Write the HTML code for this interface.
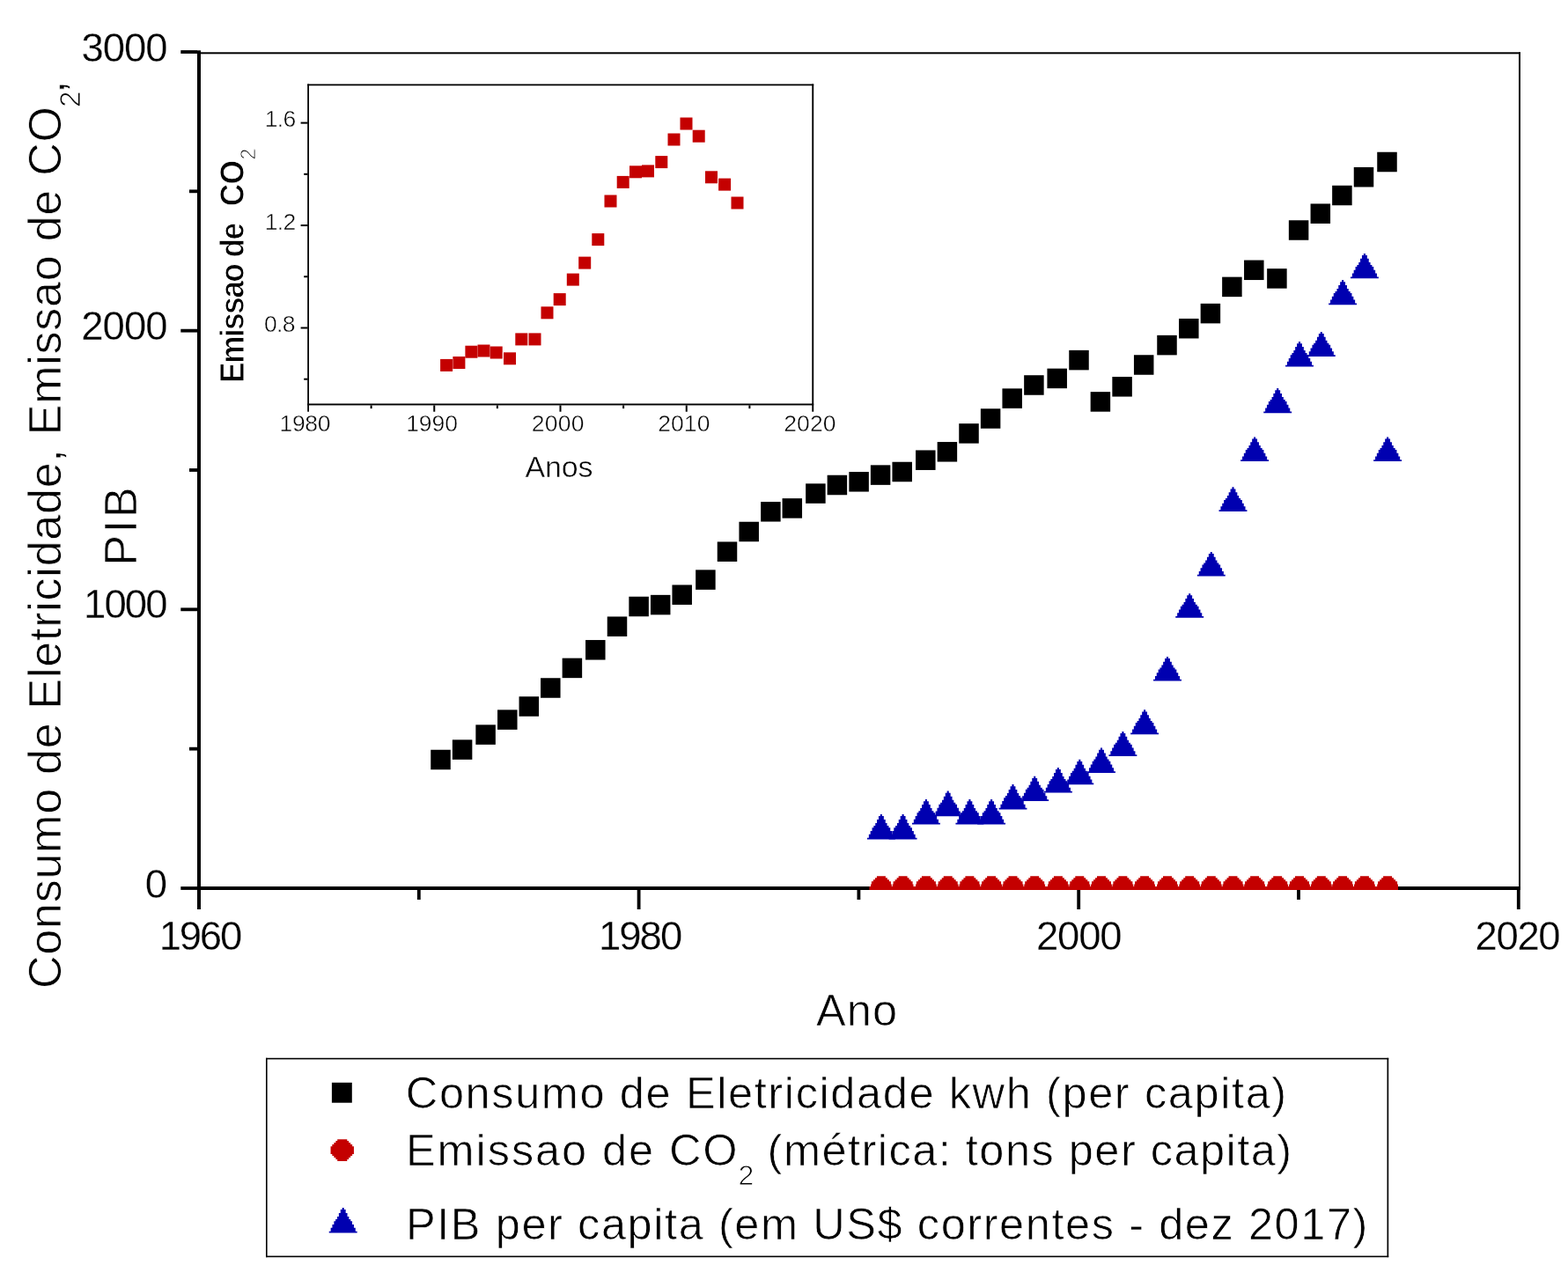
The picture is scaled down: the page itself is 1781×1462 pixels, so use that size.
<!DOCTYPE html>
<html><head><meta charset="utf-8"><title>Chart</title>
<style>html,body{margin:0;padding:0;background:#fff;} svg{display:block;} text{font-family:'Liberation Sans', Arial, sans-serif;fill:#000;}</style>
</head><body>
<svg width="1781" height="1462" viewBox="0 0 1781 1462">
<rect width="1781" height="1462" fill="#fff"/>
<rect x="224.00" y="57.30" width="4.00" height="975.70" fill="#000"/>
<rect x="224.00" y="1007.00" width="1503.00" height="4.00" fill="#000"/>
<rect x="224.00" y="59.30" width="1503.00" height="2.00" fill="#000"/>
<rect x="1725.00" y="59.30" width="2.00" height="951.70" fill="#000"/>
<rect x="224.10" y="1011.00" width="3.80" height="22.00" fill="#000"/>
<rect x="473.90" y="1011.00" width="3.80" height="11.00" fill="#000"/>
<rect x="723.70" y="1011.00" width="3.80" height="22.00" fill="#000"/>
<rect x="973.50" y="1011.00" width="3.80" height="11.00" fill="#000"/>
<rect x="1223.30" y="1011.00" width="3.80" height="22.00" fill="#000"/>
<rect x="1473.10" y="1011.00" width="3.80" height="11.00" fill="#000"/>
<rect x="1722.90" y="1011.00" width="3.80" height="22.00" fill="#000"/>
<rect x="205.30" y="1007.10" width="18.70" height="3.80" fill="#000"/>
<rect x="215.00" y="848.76" width="9.00" height="3.80" fill="#000"/>
<rect x="205.30" y="690.43" width="18.70" height="3.80" fill="#000"/>
<rect x="215.00" y="532.10" width="9.00" height="3.80" fill="#000"/>
<rect x="205.30" y="373.76" width="18.70" height="3.80" fill="#000"/>
<rect x="215.00" y="215.42" width="9.00" height="3.80" fill="#000"/>
<rect x="205.30" y="57.09" width="18.70" height="3.80" fill="#000"/>
<defs><clipPath id="cp"><rect x="228" y="61" width="1497" height="950"/></clipPath></defs>
<g clip-path="url(#cp)" fill="#c40000">
<polygon points="1005.90,995.30 1005.90,997.15 1007.90,997.15 1007.90,999.20 1009.90,999.20 1009.90,1001.20 1011.90,1001.20 1011.90,1004.60 1012.80,1004.60 1012.80,1013.00 989.00,1013.00 989.00,1004.60 989.90,1004.60 989.90,1001.20 991.90,1001.20 991.90,999.20 993.90,999.20 993.90,997.15 995.90,997.15 995.90,995.30"/>
<polygon points="1030.60,995.30 1030.60,997.15 1032.60,997.15 1032.60,999.20 1034.60,999.20 1034.60,1001.20 1036.60,1001.20 1036.60,1004.60 1037.50,1004.60 1037.50,1013.00 1013.70,1013.00 1013.70,1004.60 1014.60,1004.60 1014.60,1001.20 1016.60,1001.20 1016.60,999.20 1018.60,999.20 1018.60,997.15 1020.60,997.15 1020.60,995.30"/>
<polygon points="1056.90,995.30 1056.90,997.15 1058.90,997.15 1058.90,999.20 1060.90,999.20 1060.90,1001.20 1062.90,1001.20 1062.90,1004.60 1063.80,1004.60 1063.80,1013.00 1040.00,1013.00 1040.00,1004.60 1040.90,1004.60 1040.90,1001.20 1042.90,1001.20 1042.90,999.20 1044.90,999.20 1044.90,997.15 1046.90,997.15 1046.90,995.30"/>
<polygon points="1081.70,995.30 1081.70,997.15 1083.70,997.15 1083.70,999.20 1085.70,999.20 1085.70,1001.20 1087.70,1001.20 1087.70,1004.60 1088.60,1004.60 1088.60,1013.00 1064.80,1013.00 1064.80,1004.60 1065.70,1004.60 1065.70,1001.20 1067.70,1001.20 1067.70,999.20 1069.70,999.20 1069.70,997.15 1071.70,997.15 1071.70,995.30"/>
<polygon points="1106.40,995.30 1106.40,997.15 1108.40,997.15 1108.40,999.20 1110.40,999.20 1110.40,1001.20 1112.40,1001.20 1112.40,1004.60 1113.30,1004.60 1113.30,1013.00 1089.50,1013.00 1089.50,1004.60 1090.40,1004.60 1090.40,1001.20 1092.40,1001.20 1092.40,999.20 1094.40,999.20 1094.40,997.15 1096.40,997.15 1096.40,995.30"/>
<polygon points="1131.10,995.30 1131.10,997.15 1133.10,997.15 1133.10,999.20 1135.10,999.20 1135.10,1001.20 1137.10,1001.20 1137.10,1004.60 1138.00,1004.60 1138.00,1013.00 1114.20,1013.00 1114.20,1004.60 1115.10,1004.60 1115.10,1001.20 1117.10,1001.20 1117.10,999.20 1119.10,999.20 1119.10,997.15 1121.10,997.15 1121.10,995.30"/>
<polygon points="1155.50,995.30 1155.50,997.15 1157.50,997.15 1157.50,999.20 1159.50,999.20 1159.50,1001.20 1161.50,1001.20 1161.50,1004.60 1162.40,1004.60 1162.40,1013.00 1138.60,1013.00 1138.60,1004.60 1139.50,1004.60 1139.50,1001.20 1141.50,1001.20 1141.50,999.20 1143.50,999.20 1143.50,997.15 1145.50,997.15 1145.50,995.30"/>
<polygon points="1180.20,995.30 1180.20,997.15 1182.20,997.15 1182.20,999.20 1184.20,999.20 1184.20,1001.20 1186.20,1001.20 1186.20,1004.60 1187.10,1004.60 1187.10,1013.00 1163.30,1013.00 1163.30,1004.60 1164.20,1004.60 1164.20,1001.20 1166.20,1001.20 1166.20,999.20 1168.20,999.20 1168.20,997.15 1170.20,997.15 1170.20,995.30"/>
<polygon points="1206.90,995.30 1206.90,997.15 1208.90,997.15 1208.90,999.20 1210.90,999.20 1210.90,1001.20 1212.90,1001.20 1212.90,1004.60 1213.80,1004.60 1213.80,1013.00 1190.00,1013.00 1190.00,1004.60 1190.90,1004.60 1190.90,1001.20 1192.90,1001.20 1192.90,999.20 1194.90,999.20 1194.90,997.15 1196.90,997.15 1196.90,995.30"/>
<polygon points="1231.30,995.30 1231.30,997.15 1233.30,997.15 1233.30,999.20 1235.30,999.20 1235.30,1001.20 1237.30,1001.20 1237.30,1004.60 1238.20,1004.60 1238.20,1013.00 1214.40,1013.00 1214.40,1004.60 1215.30,1004.60 1215.30,1001.20 1217.30,1001.20 1217.30,999.20 1219.30,999.20 1219.30,997.15 1221.30,997.15 1221.30,995.30"/>
<polygon points="1256.00,995.30 1256.00,997.15 1258.00,997.15 1258.00,999.20 1260.00,999.20 1260.00,1001.20 1262.00,1001.20 1262.00,1004.60 1262.90,1004.60 1262.90,1013.00 1239.10,1013.00 1239.10,1004.60 1240.00,1004.60 1240.00,1001.20 1242.00,1001.20 1242.00,999.20 1244.00,999.20 1244.00,997.15 1246.00,997.15 1246.00,995.30"/>
<polygon points="1280.40,995.30 1280.40,997.15 1282.40,997.15 1282.40,999.20 1284.40,999.20 1284.40,1001.20 1286.40,1001.20 1286.40,1004.60 1287.30,1004.60 1287.30,1013.00 1263.50,1013.00 1263.50,1004.60 1264.40,1004.60 1264.40,1001.20 1266.40,1001.20 1266.40,999.20 1268.40,999.20 1268.40,997.15 1270.40,997.15 1270.40,995.30"/>
<polygon points="1305.10,995.30 1305.10,997.15 1307.10,997.15 1307.10,999.20 1309.10,999.20 1309.10,1001.20 1311.10,1001.20 1311.10,1004.60 1312.00,1004.60 1312.00,1013.00 1288.20,1013.00 1288.20,1004.60 1289.10,1004.60 1289.10,1001.20 1291.10,1001.20 1291.10,999.20 1293.10,999.20 1293.10,997.15 1295.10,997.15 1295.10,995.30"/>
<polygon points="1331.00,995.30 1331.00,997.15 1333.00,997.15 1333.00,999.20 1335.00,999.20 1335.00,1001.20 1337.00,1001.20 1337.00,1004.60 1337.90,1004.60 1337.90,1013.00 1314.10,1013.00 1314.10,1004.60 1315.00,1004.60 1315.00,1001.20 1317.00,1001.20 1317.00,999.20 1319.00,999.20 1319.00,997.15 1321.00,997.15 1321.00,995.30"/>
<polygon points="1356.20,995.30 1356.20,997.15 1358.20,997.15 1358.20,999.20 1360.20,999.20 1360.20,1001.20 1362.20,1001.20 1362.20,1004.60 1363.10,1004.60 1363.10,1013.00 1339.30,1013.00 1339.30,1004.60 1340.20,1004.60 1340.20,1001.20 1342.20,1001.20 1342.20,999.20 1344.20,999.20 1344.20,997.15 1346.20,997.15 1346.20,995.30"/>
<polygon points="1380.80,995.30 1380.80,997.15 1382.80,997.15 1382.80,999.20 1384.80,999.20 1384.80,1001.20 1386.80,1001.20 1386.80,1004.60 1387.70,1004.60 1387.70,1013.00 1363.90,1013.00 1363.90,1004.60 1364.80,1004.60 1364.80,1001.20 1366.80,1001.20 1366.80,999.20 1368.80,999.20 1368.80,997.15 1370.80,997.15 1370.80,995.30"/>
<polygon points="1405.50,995.30 1405.50,997.15 1407.50,997.15 1407.50,999.20 1409.50,999.20 1409.50,1001.20 1411.50,1001.20 1411.50,1004.60 1412.40,1004.60 1412.40,1013.00 1388.60,1013.00 1388.60,1004.60 1389.50,1004.60 1389.50,1001.20 1391.50,1001.20 1391.50,999.20 1393.50,999.20 1393.50,997.15 1395.50,997.15 1395.50,995.30"/>
<polygon points="1430.10,995.30 1430.10,997.15 1432.10,997.15 1432.10,999.20 1434.10,999.20 1434.10,1001.20 1436.10,1001.20 1436.10,1004.60 1437.00,1004.60 1437.00,1013.00 1413.20,1013.00 1413.20,1004.60 1414.10,1004.60 1414.10,1001.20 1416.10,1001.20 1416.10,999.20 1418.10,999.20 1418.10,997.15 1420.10,997.15 1420.10,995.30"/>
<polygon points="1456.20,995.30 1456.20,997.15 1458.20,997.15 1458.20,999.20 1460.20,999.20 1460.20,1001.20 1462.20,1001.20 1462.20,1004.60 1463.10,1004.60 1463.10,1013.00 1439.30,1013.00 1439.30,1004.60 1440.20,1004.60 1440.20,1001.20 1442.20,1001.20 1442.20,999.20 1444.20,999.20 1444.20,997.15 1446.20,997.15 1446.20,995.30"/>
<polygon points="1481.00,995.30 1481.00,997.15 1483.00,997.15 1483.00,999.20 1485.00,999.20 1485.00,1001.20 1487.00,1001.20 1487.00,1004.60 1487.90,1004.60 1487.90,1013.00 1464.10,1013.00 1464.10,1004.60 1465.00,1004.60 1465.00,1001.20 1467.00,1001.20 1467.00,999.20 1469.00,999.20 1469.00,997.15 1471.00,997.15 1471.00,995.30"/>
<polygon points="1505.80,995.30 1505.80,997.15 1507.80,997.15 1507.80,999.20 1509.80,999.20 1509.80,1001.20 1511.80,1001.20 1511.80,1004.60 1512.70,1004.60 1512.70,1013.00 1488.90,1013.00 1488.90,1004.60 1489.80,1004.60 1489.80,1001.20 1491.80,1001.20 1491.80,999.20 1493.80,999.20 1493.80,997.15 1495.80,997.15 1495.80,995.30"/>
<polygon points="1530.10,995.30 1530.10,997.15 1532.10,997.15 1532.10,999.20 1534.10,999.20 1534.10,1001.20 1536.10,1001.20 1536.10,1004.60 1537.00,1004.60 1537.00,1013.00 1513.20,1013.00 1513.20,1004.60 1514.10,1004.60 1514.10,1001.20 1516.10,1001.20 1516.10,999.20 1518.10,999.20 1518.10,997.15 1520.10,997.15 1520.10,995.30"/>
<polygon points="1554.90,995.30 1554.90,997.15 1556.90,997.15 1556.90,999.20 1558.90,999.20 1558.90,1001.20 1560.90,1001.20 1560.90,1004.60 1561.80,1004.60 1561.80,1013.00 1538.00,1013.00 1538.00,1004.60 1538.90,1004.60 1538.90,1001.20 1540.90,1001.20 1540.90,999.20 1542.90,999.20 1542.90,997.15 1544.90,997.15 1544.90,995.30"/>
<polygon points="1581.10,995.30 1581.10,997.15 1583.10,997.15 1583.10,999.20 1585.10,999.20 1585.10,1001.20 1587.10,1001.20 1587.10,1004.60 1588.00,1004.60 1588.00,1013.00 1564.20,1013.00 1564.20,1004.60 1565.10,1004.60 1565.10,1001.20 1567.10,1001.20 1567.10,999.20 1569.10,999.20 1569.10,997.15 1571.10,997.15 1571.10,995.30"/>
<rect x="987.40" y="1007.00" width="600.20" height="4.00" fill="#c40000"/>
</g>
<rect x="489.25" y="851.75" width="22.50" height="22.50" fill="#000"/>
<rect x="513.85" y="840.35" width="22.50" height="22.50" fill="#000"/>
<rect x="540.35" y="823.35" width="22.50" height="22.50" fill="#000"/>
<rect x="565.05" y="806.35" width="22.50" height="22.50" fill="#000"/>
<rect x="589.55" y="791.25" width="22.50" height="22.50" fill="#000"/>
<rect x="614.05" y="770.25" width="22.50" height="22.50" fill="#000"/>
<rect x="638.65" y="747.65" width="22.50" height="22.50" fill="#000"/>
<rect x="665.05" y="727.05" width="22.50" height="22.50" fill="#000"/>
<rect x="689.75" y="700.45" width="22.50" height="22.50" fill="#000"/>
<rect x="714.35" y="677.75" width="22.50" height="22.50" fill="#000"/>
<rect x="738.95" y="675.85" width="22.50" height="22.50" fill="#000"/>
<rect x="763.45" y="664.45" width="22.50" height="22.50" fill="#000"/>
<rect x="790.15" y="647.35" width="22.50" height="22.50" fill="#000"/>
<rect x="814.75" y="615.45" width="22.50" height="22.50" fill="#000"/>
<rect x="839.45" y="592.75" width="22.50" height="22.50" fill="#000"/>
<rect x="864.15" y="570.05" width="22.50" height="22.50" fill="#000"/>
<rect x="888.55" y="566.15" width="22.50" height="22.50" fill="#000"/>
<rect x="915.15" y="549.35" width="22.50" height="22.50" fill="#000"/>
<rect x="939.65" y="539.75" width="22.50" height="22.50" fill="#000"/>
<rect x="964.35" y="536.05" width="22.50" height="22.50" fill="#000"/>
<rect x="988.85" y="528.35" width="22.50" height="22.50" fill="#000"/>
<rect x="1013.45" y="524.75" width="22.50" height="22.50" fill="#000"/>
<rect x="1040.05" y="511.45" width="22.50" height="22.50" fill="#000"/>
<rect x="1064.65" y="502.05" width="22.50" height="22.50" fill="#000"/>
<rect x="1089.25" y="481.15" width="22.50" height="22.50" fill="#000"/>
<rect x="1113.85" y="464.25" width="22.50" height="22.50" fill="#000"/>
<rect x="1138.45" y="441.35" width="22.50" height="22.50" fill="#000"/>
<rect x="1163.15" y="426.25" width="22.50" height="22.50" fill="#000"/>
<rect x="1189.45" y="418.65" width="22.50" height="22.50" fill="#000"/>
<rect x="1214.25" y="397.85" width="22.50" height="22.50" fill="#000"/>
<rect x="1238.65" y="445.15" width="22.50" height="22.50" fill="#000"/>
<rect x="1263.35" y="428.05" width="22.50" height="22.50" fill="#000"/>
<rect x="1287.95" y="403.25" width="22.50" height="22.50" fill="#000"/>
<rect x="1314.25" y="380.85" width="22.50" height="22.50" fill="#000"/>
<rect x="1339.05" y="361.95" width="22.50" height="22.50" fill="#000"/>
<rect x="1363.65" y="344.85" width="22.50" height="22.50" fill="#000"/>
<rect x="1388.15" y="314.65" width="22.50" height="22.50" fill="#000"/>
<rect x="1413.05" y="295.55" width="22.50" height="22.50" fill="#000"/>
<rect x="1439.15" y="305.15" width="22.50" height="22.50" fill="#000"/>
<rect x="1463.85" y="250.25" width="22.50" height="22.50" fill="#000"/>
<rect x="1488.55" y="231.45" width="22.50" height="22.50" fill="#000"/>
<rect x="1513.15" y="210.75" width="22.50" height="22.50" fill="#000"/>
<rect x="1537.75" y="189.95" width="22.50" height="22.50" fill="#000"/>
<rect x="1564.25" y="172.75" width="22.50" height="22.50" fill="#000"/>
<polygon points="1001.95,924.90 1001.95,927.08 1003.85,927.08 1003.85,930.94 1005.75,930.94 1005.75,934.99 1007.55,934.99 1007.55,938.06 1009.45,938.06 1009.45,940.14 1011.25,940.14 1011.25,944.00 1013.15,944.00 1013.15,947.76 1014.95,947.76 1014.95,951.82 1016.85,951.82 1016.85,953.60 984.95,953.60 984.95,951.82 986.85,951.82 986.85,947.76 988.65,947.76 988.65,944.00 990.55,944.00 990.55,940.14 992.35,940.14 992.35,938.06 994.25,938.06 994.25,934.99 996.05,934.99 996.05,930.94 997.95,930.94 997.95,927.08 999.85,927.08 999.85,924.90" fill="#0000b0"/>
<polygon points="1026.65,924.90 1026.65,927.08 1028.55,927.08 1028.55,930.94 1030.45,930.94 1030.45,934.99 1032.25,934.99 1032.25,938.06 1034.15,938.06 1034.15,940.14 1035.95,940.14 1035.95,944.00 1037.85,944.00 1037.85,947.76 1039.65,947.76 1039.65,951.82 1041.55,951.82 1041.55,953.60 1009.65,953.60 1009.65,951.82 1011.55,951.82 1011.55,947.76 1013.35,947.76 1013.35,944.00 1015.25,944.00 1015.25,940.14 1017.05,940.14 1017.05,938.06 1018.95,938.06 1018.95,934.99 1020.75,934.99 1020.75,930.94 1022.65,930.94 1022.65,927.08 1024.55,927.08 1024.55,924.90" fill="#0000b0"/>
<polygon points="1052.95,908.10 1052.95,910.26 1054.85,910.26 1054.85,914.09 1056.75,914.09 1056.75,918.12 1058.55,918.12 1058.55,921.17 1060.45,921.17 1060.45,923.23 1062.25,923.23 1062.25,927.07 1064.15,927.07 1064.15,930.80 1065.95,930.80 1065.95,934.83 1067.85,934.83 1067.85,936.60 1035.95,936.60 1035.95,934.83 1037.85,934.83 1037.85,930.80 1039.65,930.80 1039.65,927.07 1041.55,927.07 1041.55,923.23 1043.35,923.23 1043.35,921.17 1045.25,921.17 1045.25,918.12 1047.05,918.12 1047.05,914.09 1048.95,914.09 1048.95,910.26 1050.85,910.26 1050.85,908.10" fill="#0000b0"/>
<polygon points="1077.75,898.60 1077.75,900.78 1079.65,900.78 1079.65,904.64 1081.55,904.64 1081.55,908.69 1083.35,908.69 1083.35,911.76 1085.25,911.76 1085.25,913.84 1087.05,913.84 1087.05,917.70 1088.95,917.70 1088.95,921.46 1090.75,921.46 1090.75,925.52 1092.65,925.52 1092.65,927.30 1060.75,927.30 1060.75,925.52 1062.65,925.52 1062.65,921.46 1064.45,921.46 1064.45,917.70 1066.35,917.70 1066.35,913.84 1068.15,913.84 1068.15,911.76 1070.05,911.76 1070.05,908.69 1071.85,908.69 1071.85,904.64 1073.75,904.64 1073.75,900.78 1075.65,900.78 1075.65,898.60" fill="#0000b0"/>
<polygon points="1102.45,908.10 1102.45,910.26 1104.35,910.26 1104.35,914.09 1106.25,914.09 1106.25,918.12 1108.05,918.12 1108.05,921.17 1109.95,921.17 1109.95,923.23 1111.75,923.23 1111.75,927.07 1113.65,927.07 1113.65,930.80 1115.45,930.80 1115.45,934.83 1117.35,934.83 1117.35,936.60 1085.45,936.60 1085.45,934.83 1087.35,934.83 1087.35,930.80 1089.15,930.80 1089.15,927.07 1091.05,927.07 1091.05,923.23 1092.85,923.23 1092.85,921.17 1094.75,921.17 1094.75,918.12 1096.55,918.12 1096.55,914.09 1098.45,914.09 1098.45,910.26 1100.35,910.26 1100.35,908.10" fill="#0000b0"/>
<polygon points="1127.15,908.10 1127.15,910.26 1129.05,910.26 1129.05,914.09 1130.95,914.09 1130.95,918.12 1132.75,918.12 1132.75,921.17 1134.65,921.17 1134.65,923.23 1136.45,923.23 1136.45,927.07 1138.35,927.07 1138.35,930.80 1140.15,930.80 1140.15,934.83 1142.05,934.83 1142.05,936.60 1110.15,936.60 1110.15,934.83 1112.05,934.83 1112.05,930.80 1113.85,930.80 1113.85,927.07 1115.75,927.07 1115.75,923.23 1117.55,923.23 1117.55,921.17 1119.45,921.17 1119.45,918.12 1121.25,918.12 1121.25,914.09 1123.15,914.09 1123.15,910.26 1125.05,910.26 1125.05,908.10" fill="#0000b0"/>
<polygon points="1151.55,891.10 1151.55,893.25 1153.45,893.25 1153.45,897.05 1155.35,897.05 1155.35,901.05 1157.15,901.05 1157.15,904.08 1159.05,904.08 1159.05,906.13 1160.85,906.13 1160.85,909.93 1162.75,909.93 1162.75,913.64 1164.55,913.64 1164.55,917.64 1166.45,917.64 1166.45,919.40 1134.55,919.40 1134.55,917.64 1136.45,917.64 1136.45,913.64 1138.25,913.64 1138.25,909.93 1140.15,909.93 1140.15,906.13 1141.95,906.13 1141.95,904.08 1143.85,904.08 1143.85,901.05 1145.65,901.05 1145.65,897.05 1147.55,897.05 1147.55,893.25 1149.45,893.25 1149.45,891.10" fill="#0000b0"/>
<polygon points="1176.25,881.80 1176.25,883.95 1178.15,883.95 1178.15,887.75 1180.05,887.75 1180.05,891.75 1181.85,891.75 1181.85,894.78 1183.75,894.78 1183.75,896.83 1185.55,896.83 1185.55,900.63 1187.45,900.63 1187.45,904.34 1189.25,904.34 1189.25,908.34 1191.15,908.34 1191.15,910.10 1159.25,910.10 1159.25,908.34 1161.15,908.34 1161.15,904.34 1162.95,904.34 1162.95,900.63 1164.85,900.63 1164.85,896.83 1166.65,896.83 1166.65,894.78 1168.55,894.78 1168.55,891.75 1170.35,891.75 1170.35,887.75 1172.25,887.75 1172.25,883.95 1174.15,883.95 1174.15,881.80" fill="#0000b0"/>
<polygon points="1202.95,871.90 1202.95,874.08 1204.85,874.08 1204.85,877.94 1206.75,877.94 1206.75,881.99 1208.55,881.99 1208.55,885.06 1210.45,885.06 1210.45,887.14 1212.25,887.14 1212.25,891.00 1214.15,891.00 1214.15,894.76 1215.95,894.76 1215.95,898.82 1217.85,898.82 1217.85,900.60 1185.95,900.60 1185.95,898.82 1187.85,898.82 1187.85,894.76 1189.65,894.76 1189.65,891.00 1191.55,891.00 1191.55,887.14 1193.35,887.14 1193.35,885.06 1195.25,885.06 1195.25,881.99 1197.05,881.99 1197.05,877.94 1198.95,877.94 1198.95,874.08 1200.85,874.08 1200.85,871.90" fill="#0000b0"/>
<polygon points="1227.35,862.80 1227.35,864.96 1229.25,864.96 1229.25,868.79 1231.15,868.79 1231.15,872.82 1232.95,872.82 1232.95,875.87 1234.85,875.87 1234.85,877.93 1236.65,877.93 1236.65,881.77 1238.55,881.77 1238.55,885.50 1240.35,885.50 1240.35,889.53 1242.25,889.53 1242.25,891.30 1210.35,891.30 1210.35,889.53 1212.25,889.53 1212.25,885.50 1214.05,885.50 1214.05,881.77 1215.95,881.77 1215.95,877.93 1217.75,877.93 1217.75,875.87 1219.65,875.87 1219.65,872.82 1221.45,872.82 1221.45,868.79 1223.35,868.79 1223.35,864.96 1225.25,864.96 1225.25,862.80" fill="#0000b0"/>
<polygon points="1252.05,849.50 1252.05,851.66 1253.95,851.66 1253.95,855.49 1255.85,855.49 1255.85,859.52 1257.65,859.52 1257.65,862.57 1259.55,862.57 1259.55,864.63 1261.35,864.63 1261.35,868.47 1263.25,868.47 1263.25,872.20 1265.05,872.20 1265.05,876.23 1266.95,876.23 1266.95,878.00 1235.05,878.00 1235.05,876.23 1236.95,876.23 1236.95,872.20 1238.75,872.20 1238.75,868.47 1240.65,868.47 1240.65,864.63 1242.45,864.63 1242.45,862.57 1244.35,862.57 1244.35,859.52 1246.15,859.52 1246.15,855.49 1248.05,855.49 1248.05,851.66 1249.95,851.66 1249.95,849.50" fill="#0000b0"/>
<polygon points="1276.45,831.00 1276.45,833.12 1278.35,833.12 1278.35,836.87 1280.25,836.87 1280.25,840.81 1282.05,840.81 1282.05,843.80 1283.95,843.80 1283.95,845.82 1285.75,845.82 1285.75,849.57 1287.65,849.57 1287.65,853.22 1289.45,853.22 1289.45,857.17 1291.35,857.17 1291.35,858.90 1259.45,858.90 1259.45,857.17 1261.35,857.17 1261.35,853.22 1263.15,853.22 1263.15,849.57 1265.05,849.57 1265.05,845.82 1266.85,845.82 1266.85,843.80 1268.75,843.80 1268.75,840.81 1270.55,840.81 1270.55,836.87 1272.45,836.87 1272.45,833.12 1274.35,833.12 1274.35,831.00" fill="#0000b0"/>
<polygon points="1301.15,806.30 1301.15,808.42 1303.05,808.42 1303.05,812.17 1304.95,812.17 1304.95,816.11 1306.75,816.11 1306.75,819.10 1308.65,819.10 1308.65,821.12 1310.45,821.12 1310.45,824.87 1312.35,824.87 1312.35,828.52 1314.15,828.52 1314.15,832.47 1316.05,832.47 1316.05,834.20 1284.15,834.20 1284.15,832.47 1286.05,832.47 1286.05,828.52 1287.85,828.52 1287.85,824.87 1289.75,824.87 1289.75,821.12 1291.55,821.12 1291.55,819.10 1293.45,819.10 1293.45,816.11 1295.25,816.11 1295.25,812.17 1297.15,812.17 1297.15,808.42 1299.05,808.42 1299.05,806.30" fill="#0000b0"/>
<polygon points="1327.05,745.90 1327.05,747.99 1328.95,747.99 1328.95,751.71 1330.85,751.71 1330.85,755.61 1332.65,755.61 1332.65,758.56 1334.55,758.56 1334.55,760.56 1336.35,760.56 1336.35,764.27 1338.25,764.27 1338.25,767.88 1340.05,767.88 1340.05,771.79 1341.95,771.79 1341.95,773.50 1310.05,773.50 1310.05,771.79 1311.95,771.79 1311.95,767.88 1313.75,767.88 1313.75,764.27 1315.65,764.27 1315.65,760.56 1317.45,760.56 1317.45,758.56 1319.35,758.56 1319.35,755.61 1321.15,755.61 1321.15,751.71 1323.05,751.71 1323.05,747.99 1324.95,747.99 1324.95,745.90" fill="#0000b0"/>
<polygon points="1352.25,674.20 1352.25,676.29 1354.15,676.29 1354.15,680.01 1356.05,680.01 1356.05,683.91 1357.85,683.91 1357.85,686.86 1359.75,686.86 1359.75,688.86 1361.55,688.86 1361.55,692.57 1363.45,692.57 1363.45,696.18 1365.25,696.18 1365.25,700.09 1367.15,700.09 1367.15,701.80 1335.25,701.80 1335.25,700.09 1337.15,700.09 1337.15,696.18 1338.95,696.18 1338.95,692.57 1340.85,692.57 1340.85,688.86 1342.65,688.86 1342.65,686.86 1344.55,686.86 1344.55,683.91 1346.35,683.91 1346.35,680.01 1348.25,680.01 1348.25,676.29 1350.15,676.29 1350.15,674.20" fill="#0000b0"/>
<polygon points="1376.85,626.90 1376.85,628.99 1378.75,628.99 1378.75,632.71 1380.65,632.71 1380.65,636.61 1382.45,636.61 1382.45,639.56 1384.35,639.56 1384.35,641.56 1386.15,641.56 1386.15,645.27 1388.05,645.27 1388.05,648.88 1389.85,648.88 1389.85,652.79 1391.75,652.79 1391.75,654.50 1359.85,654.50 1359.85,652.79 1361.75,652.79 1361.75,648.88 1363.55,648.88 1363.55,645.27 1365.45,645.27 1365.45,641.56 1367.25,641.56 1367.25,639.56 1369.15,639.56 1369.15,636.61 1370.95,636.61 1370.95,632.71 1372.85,632.71 1372.85,628.99 1374.75,628.99 1374.75,626.90" fill="#0000b0"/>
<polygon points="1401.55,553.30 1401.55,555.40 1403.45,555.40 1403.45,559.13 1405.35,559.13 1405.35,563.04 1407.15,563.04 1407.15,566.00 1409.05,566.00 1409.05,568.01 1410.85,568.01 1410.85,571.73 1412.75,571.73 1412.75,575.36 1414.55,575.36 1414.55,579.28 1416.45,579.28 1416.45,581.00 1384.55,581.00 1384.55,579.28 1386.45,579.28 1386.45,575.36 1388.25,575.36 1388.25,571.73 1390.15,571.73 1390.15,568.01 1391.95,568.01 1391.95,566.00 1393.85,566.00 1393.85,563.04 1395.65,563.04 1395.65,559.13 1397.55,559.13 1397.55,555.40 1399.45,555.40 1399.45,553.30" fill="#0000b0"/>
<polygon points="1426.15,496.40 1426.15,498.49 1428.05,498.49 1428.05,502.21 1429.95,502.21 1429.95,506.11 1431.75,506.11 1431.75,509.06 1433.65,509.06 1433.65,511.06 1435.45,511.06 1435.45,514.77 1437.35,514.77 1437.35,518.38 1439.15,518.38 1439.15,522.29 1441.05,522.29 1441.05,524.00 1409.15,524.00 1409.15,522.29 1411.05,522.29 1411.05,518.38 1412.85,518.38 1412.85,514.77 1414.75,514.77 1414.75,511.06 1416.55,511.06 1416.55,509.06 1418.45,509.06 1418.45,506.11 1420.25,506.11 1420.25,502.21 1422.15,502.21 1422.15,498.49 1424.05,498.49 1424.05,496.40" fill="#0000b0"/>
<polygon points="1452.25,441.00 1452.25,443.14 1454.15,443.14 1454.15,446.93 1456.05,446.93 1456.05,450.92 1457.85,450.92 1457.85,453.93 1459.75,453.93 1459.75,455.98 1461.55,455.98 1461.55,459.77 1463.45,459.77 1463.45,463.46 1465.25,463.46 1465.25,467.45 1467.15,467.45 1467.15,469.20 1435.25,469.20 1435.25,467.45 1437.15,467.45 1437.15,463.46 1438.95,463.46 1438.95,459.77 1440.85,459.77 1440.85,455.98 1442.65,455.98 1442.65,453.93 1444.55,453.93 1444.55,450.92 1446.35,450.92 1446.35,446.93 1448.25,446.93 1448.25,443.14 1450.15,443.14 1450.15,441.00" fill="#0000b0"/>
<polygon points="1477.05,388.10 1477.05,390.25 1478.95,390.25 1478.95,394.07 1480.85,394.07 1480.85,398.09 1482.65,398.09 1482.65,401.12 1484.55,401.12 1484.55,403.18 1486.35,403.18 1486.35,407.00 1488.25,407.00 1488.25,410.72 1490.05,410.72 1490.05,414.74 1491.95,414.74 1491.95,416.50 1460.05,416.50 1460.05,414.74 1461.95,414.74 1461.95,410.72 1463.75,410.72 1463.75,407.00 1465.65,407.00 1465.65,403.18 1467.45,403.18 1467.45,401.12 1469.35,401.12 1469.35,398.09 1471.15,398.09 1471.15,394.07 1473.05,394.07 1473.05,390.25 1474.95,390.25 1474.95,388.10" fill="#0000b0"/>
<polygon points="1501.85,377.00 1501.85,379.12 1503.75,379.12 1503.75,382.87 1505.65,382.87 1505.65,386.81 1507.45,386.81 1507.45,389.80 1509.35,389.80 1509.35,391.82 1511.15,391.82 1511.15,395.57 1513.05,395.57 1513.05,399.22 1514.85,399.22 1514.85,403.17 1516.75,403.17 1516.75,404.90 1484.85,404.90 1484.85,403.17 1486.75,403.17 1486.75,399.22 1488.55,399.22 1488.55,395.57 1490.45,395.57 1490.45,391.82 1492.25,391.82 1492.25,389.80 1494.15,389.80 1494.15,386.81 1495.95,386.81 1495.95,382.87 1497.85,382.87 1497.85,379.12 1499.75,379.12 1499.75,377.00" fill="#0000b0"/>
<polygon points="1526.15,318.00 1526.15,320.14 1528.05,320.14 1528.05,323.93 1529.95,323.93 1529.95,327.92 1531.75,327.92 1531.75,330.93 1533.65,330.93 1533.65,332.98 1535.45,332.98 1535.45,336.77 1537.35,336.77 1537.35,340.46 1539.15,340.46 1539.15,344.45 1541.05,344.45 1541.05,346.20 1509.15,346.20 1509.15,344.45 1511.05,344.45 1511.05,340.46 1512.85,340.46 1512.85,336.77 1514.75,336.77 1514.75,332.98 1516.55,332.98 1516.55,330.93 1518.45,330.93 1518.45,327.92 1520.25,327.92 1520.25,323.93 1522.15,323.93 1522.15,320.14 1524.05,320.14 1524.05,318.00" fill="#0000b0"/>
<polygon points="1550.95,287.90 1550.95,290.05 1552.85,290.05 1552.85,293.87 1554.75,293.87 1554.75,297.89 1556.55,297.89 1556.55,300.92 1558.45,300.92 1558.45,302.98 1560.25,302.98 1560.25,306.80 1562.15,306.80 1562.15,310.52 1563.95,310.52 1563.95,314.54 1565.85,314.54 1565.85,316.30 1533.95,316.30 1533.95,314.54 1535.85,314.54 1535.85,310.52 1537.65,310.52 1537.65,306.80 1539.55,306.80 1539.55,302.98 1541.35,302.98 1541.35,300.92 1543.25,300.92 1543.25,297.89 1545.05,297.89 1545.05,293.87 1546.95,293.87 1546.95,290.05 1548.85,290.05 1548.85,287.90" fill="#0000b0"/>
<polygon points="1577.15,496.40 1577.15,498.49 1579.05,498.49 1579.05,502.21 1580.95,502.21 1580.95,506.11 1582.75,506.11 1582.75,509.06 1584.65,509.06 1584.65,511.06 1586.45,511.06 1586.45,514.77 1588.35,514.77 1588.35,518.38 1590.15,518.38 1590.15,522.29 1592.05,522.29 1592.05,524.00 1560.15,524.00 1560.15,522.29 1562.05,522.29 1562.05,518.38 1563.85,518.38 1563.85,514.77 1565.75,514.77 1565.75,511.06 1567.55,511.06 1567.55,509.06 1569.45,509.06 1569.45,506.11 1571.25,506.11 1571.25,502.21 1573.15,502.21 1573.15,498.49 1575.05,498.49 1575.05,496.40" fill="#0000b0"/>
<rect x="349.20" y="95.50" width="575.00" height="1.80" fill="#000"/>
<rect x="349.20" y="458.50" width="575.00" height="1.90" fill="#000"/>
<rect x="349.20" y="95.50" width="1.80" height="372.20" fill="#000"/>
<rect x="922.30" y="95.50" width="1.90" height="372.20" fill="#000"/>
<rect x="420.62" y="460.40" width="2.00" height="3.70" fill="#000"/>
<rect x="492.25" y="460.40" width="2.00" height="7.30" fill="#000"/>
<rect x="563.88" y="460.40" width="2.00" height="3.70" fill="#000"/>
<rect x="635.50" y="460.40" width="2.00" height="7.30" fill="#000"/>
<rect x="707.12" y="460.40" width="2.00" height="3.70" fill="#000"/>
<rect x="778.75" y="460.40" width="2.00" height="7.30" fill="#000"/>
<rect x="850.38" y="460.40" width="2.00" height="3.70" fill="#000"/>
<rect x="345.20" y="429.70" width="4.30" height="2.00" fill="#000"/>
<rect x="341.60" y="371.48" width="7.90" height="2.00" fill="#000"/>
<rect x="345.20" y="313.26" width="4.30" height="2.00" fill="#000"/>
<rect x="341.60" y="255.04" width="7.90" height="2.00" fill="#000"/>
<rect x="345.20" y="196.82" width="4.30" height="2.00" fill="#000"/>
<rect x="341.60" y="138.60" width="7.90" height="2.00" fill="#000"/>
<rect x="500.10" y="407.90" width="14.00" height="14.00" fill="#c40000"/>
<rect x="514.40" y="405.00" width="14.00" height="14.00" fill="#c40000"/>
<rect x="528.40" y="392.70" width="14.00" height="14.00" fill="#c40000"/>
<rect x="542.50" y="391.50" width="14.00" height="14.00" fill="#c40000"/>
<rect x="556.70" y="393.50" width="14.00" height="14.00" fill="#c40000"/>
<rect x="572.00" y="400.30" width="14.00" height="14.00" fill="#c40000"/>
<rect x="585.30" y="378.40" width="14.00" height="14.00" fill="#c40000"/>
<rect x="600.50" y="378.40" width="14.00" height="14.00" fill="#c40000"/>
<rect x="614.50" y="348.30" width="14.00" height="14.00" fill="#c40000"/>
<rect x="628.70" y="333.10" width="14.00" height="14.00" fill="#c40000"/>
<rect x="643.80" y="310.60" width="14.00" height="14.00" fill="#c40000"/>
<rect x="657.20" y="291.60" width="14.00" height="14.00" fill="#c40000"/>
<rect x="672.30" y="265.10" width="14.00" height="14.00" fill="#c40000"/>
<rect x="686.50" y="221.50" width="14.00" height="14.00" fill="#c40000"/>
<rect x="700.70" y="199.90" width="14.00" height="14.00" fill="#c40000"/>
<rect x="715.00" y="188.30" width="14.00" height="14.00" fill="#c40000"/>
<rect x="729.00" y="187.40" width="14.00" height="14.00" fill="#c40000"/>
<rect x="744.30" y="177.10" width="14.00" height="14.00" fill="#c40000"/>
<rect x="758.50" y="151.50" width="14.00" height="14.00" fill="#c40000"/>
<rect x="772.50" y="133.50" width="14.00" height="14.00" fill="#c40000"/>
<rect x="786.70" y="147.70" width="14.00" height="14.00" fill="#c40000"/>
<rect x="801.00" y="194.30" width="14.00" height="14.00" fill="#c40000"/>
<rect x="816.10" y="202.60" width="14.00" height="14.00" fill="#c40000"/>
<rect x="830.50" y="223.50" width="14.00" height="14.00" fill="#c40000"/>
<rect x="302.00" y="1201.80" width="1275.20" height="1.60" fill="#000"/>
<rect x="302.00" y="1426.60" width="1275.20" height="1.60" fill="#000"/>
<rect x="302.00" y="1201.80" width="1.60" height="226.40" fill="#000"/>
<rect x="1575.50" y="1201.80" width="1.70" height="226.40" fill="#000"/>
<rect x="376.90" y="1229.80" width="22.90" height="22.90" fill="#000"/>
<polygon points="394.30,1294.20 394.30,1296.10 396.15,1296.10 396.15,1298.10 398.15,1298.10 398.15,1300.10 400.15,1300.10 400.15,1302.20 401.95,1302.20 401.95,1310.90 401.95,1302.20 401.95,1310.90 400.15,1310.90 400.15,1313.00 398.15,1313.00 398.15,1315.00 396.15,1315.00 396.15,1317.00 394.30,1317.00 394.30,1318.90 383.20,1318.90 383.20,1317.00 381.35,1317.00 381.35,1315.00 379.35,1315.00 379.35,1313.00 377.35,1313.00 377.35,1310.90 375.55,1310.90 375.55,1302.20 375.55,1310.90 375.55,1302.20 377.35,1302.20 377.35,1300.10 379.35,1300.10 379.35,1298.10 381.35,1298.10 381.35,1296.10 383.20,1296.10 383.20,1294.20" fill="#c40000"/>
<polygon points="390.75,1371.90 390.75,1374.08 392.65,1374.08 392.65,1377.94 394.55,1377.94 394.55,1381.99 396.35,1381.99 396.35,1385.06 398.25,1385.06 398.25,1387.14 400.05,1387.14 400.05,1391.00 401.95,1391.00 401.95,1394.76 403.75,1394.76 403.75,1398.82 405.65,1398.82 405.65,1400.60 373.75,1400.60 373.75,1398.82 375.65,1398.82 375.65,1394.76 377.45,1394.76 377.45,1391.00 379.35,1391.00 379.35,1387.14 381.15,1387.14 381.15,1385.06 383.05,1385.06 383.05,1381.99 384.85,1381.99 384.85,1377.94 386.75,1377.94 386.75,1374.08 388.65,1374.08 388.65,1371.90" fill="#0000b0"/>
<text transform="translate(92.60,70.10)" font-size="45.50" textLength="98.00" lengthAdjust="spacing" stroke="#fff" stroke-width="0.30">3000</text>
<text transform="translate(92.20,386.30)" font-size="45.50" textLength="98.40" lengthAdjust="spacing" stroke="#fff" stroke-width="0.30">2000</text>
<text transform="translate(95.00,702.10)" font-size="45.50" textLength="95.60" lengthAdjust="spacing" stroke="#fff" stroke-width="0.30">1000</text>
<text transform="translate(164.80,1020.40)" font-size="45.50" stroke="#fff" stroke-width="0.30">0</text>
<text transform="translate(180.80,1079.20)" font-size="45.50" textLength="94.40" lengthAdjust="spacing" stroke="#fff" stroke-width="0.30">1960</text>
<text transform="translate(680.00,1079.00)" font-size="45.50" textLength="95.20" lengthAdjust="spacing" stroke="#fff" stroke-width="0.30">1980</text>
<text transform="translate(1177.00,1078.60)" font-size="45.50" textLength="97.60" lengthAdjust="spacing" stroke="#fff" stroke-width="0.30">2000</text>
<text transform="translate(1675.60,1079.10)" font-size="45.50" textLength="97.00" lengthAdjust="spacing" stroke="#fff" stroke-width="0.30">2020</text>
<text transform="translate(927.00,1165.30)" font-size="50.50" textLength="92.20" lengthAdjust="spacing" stroke="#fff" stroke-width="0.70">Ano</text>
<text transform="translate(300.80,144.00)" font-size="26.50" textLength="35.40" lengthAdjust="spacing" stroke="#fff" stroke-width="0.50">1.6</text>
<text transform="translate(300.80,261.40)" font-size="26.50" textLength="35.40" lengthAdjust="spacing" stroke="#fff" stroke-width="0.50">1.2</text>
<text transform="translate(300.00,377.20)" font-size="26.50" textLength="35.40" lengthAdjust="spacing" stroke="#fff" stroke-width="0.50">0.8</text>
<text transform="translate(317.60,490.20)" font-size="26.50" textLength="57.80" lengthAdjust="spacing" stroke="#fff" stroke-width="0.50">1980</text>
<text transform="translate(461.20,489.90)" font-size="26.50" textLength="58.80" lengthAdjust="spacing" stroke="#fff" stroke-width="0.50">1990</text>
<text transform="translate(603.80,489.90)" font-size="26.50" textLength="59.60" lengthAdjust="spacing" stroke="#fff" stroke-width="0.50">2000</text>
<text transform="translate(747.20,489.90)" font-size="26.50" textLength="59.20" lengthAdjust="spacing" stroke="#fff" stroke-width="0.50">2010</text>
<text transform="translate(890.20,489.90)" font-size="26.50" textLength="59.40" lengthAdjust="spacing" stroke="#fff" stroke-width="0.50">2020</text>
<text transform="translate(596.60,542.30)" font-size="34.00" textLength="77.00" lengthAdjust="spacing" stroke="#fff" stroke-width="0.50">Anos</text>
<text transform="translate(460.80,1259.30)" font-size="50.50" textLength="1000.40" lengthAdjust="spacing" stroke="#fff" stroke-width="0.70">Consumo de Eletricidade kwh (per capita)</text>
<text transform="translate(461.00,1324.40)" font-size="50.50" textLength="376.60" lengthAdjust="spacing" stroke="#fff" stroke-width="0.70">Emissao de CO</text>
<text transform="translate(838.60,1346.30)" font-size="32.05" stroke="#fff" stroke-width="0.90">2</text>
<text transform="translate(871.60,1324.00)" font-size="50.50" textLength="595.60" lengthAdjust="spacing" stroke="#fff" stroke-width="0.70">(métrica: tons per capita)</text>
<text transform="translate(461.00,1407.60)" font-size="50.50" textLength="1092.40" lengthAdjust="spacing" stroke="#fff" stroke-width="0.70">PIB per capita (em US$ correntes - dez 2017)</text>
<text transform="translate(69.35,1123.00) rotate(-90)" font-size="52.00" textLength="1002.00" lengthAdjust="spacing" stroke="#fff" stroke-width="0.70">Consumo de Eletricidade, Emissao de CO</text>
<text transform="translate(91.35,122.10) rotate(-90)" font-size="33.29" stroke="#fff" stroke-width="0.90">2</text>
<text transform="translate(73.35,106.00) rotate(-90)" font-size="52.00" stroke="#fff" stroke-width="0.70">,</text>
<text transform="translate(155.20,642.40) rotate(-90)" font-size="52.00" textLength="89.00" lengthAdjust="spacing" stroke="#fff" stroke-width="0.70">PIB</text>
<text transform="translate(276.50,435.00) rotate(-90) scale(0.900,1)" font-size="39.44" font-weight="bold" textLength="202.44" lengthAdjust="spacing" stroke="#fff" stroke-width="1.00">Emissao de</text>
<text transform="translate(276.50,234.30) rotate(-90) scale(0.900,1)" font-size="39.44" font-weight="bold" textLength="58.22" lengthAdjust="spacing" stroke="#fff" stroke-width="1.00">CO</text>
<text transform="translate(289.60,181.60) rotate(-90)" font-size="23.00" stroke="#fff" stroke-width="0.90">2</text>
</svg>
</body></html>
